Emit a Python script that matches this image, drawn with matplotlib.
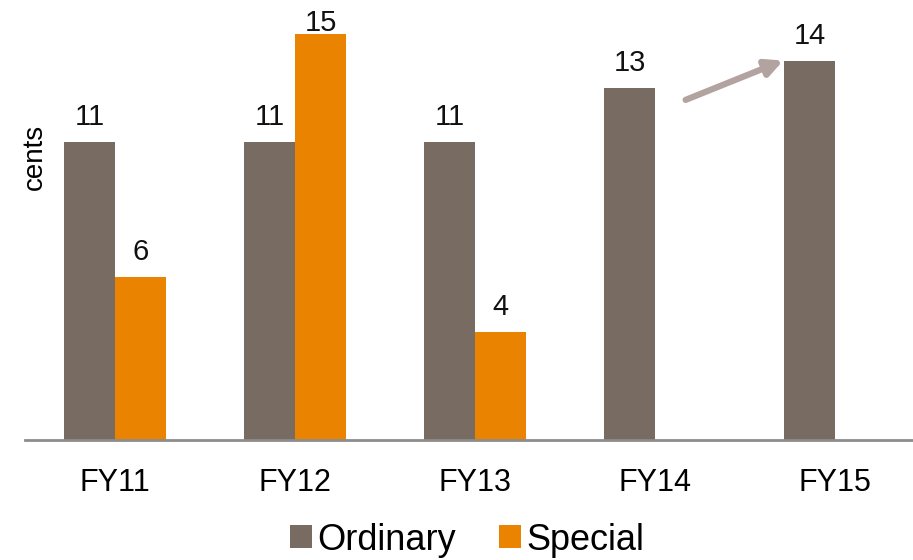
import numpy as np
import matplotlib
matplotlib.use("Agg")
import matplotlib.pyplot as plt

categories = ["FY11", "FY12", "FY13", "FY14", "FY15"]
ordinary = [11, 11, 11, 13, 14]
special = [6, 15, 4, None, None]

gray = "#786b62"
orange = "#e98300"

plt.rcParams["font.family"] = ["Liberation Sans", "DejaVu Sans"]

fig = plt.figure(figsize=(9.13, 5.6), dpi=100)
ax = fig.add_axes([25 / 913, 120 / 560, 900 / 913, 433.6 / 560])

x = np.arange(len(categories))
w = 0.283

ax.bar(x - w / 2, ordinary, w, color=gray, label="Ordinary")
sx = [i for i, v in enumerate(special) if v is not None]
sv = [v for v in special if v is not None]
ax.bar(np.array(sx) + w / 2, sv, w, color=orange, label="Special")

# labels sit above the bar, squeezed near the top of the plot
def put_label(xpos, v):
    ax.text(xpos, min(v + 0.63, 15.1), str(v), ha="center", va="baseline",
            fontsize=21, color="#111111")

for i, v in enumerate(ordinary):
    put_label(i - w / 2, v)
for i, v in zip(sx, sv):
    put_label(i + w / 2, v)

# trend arrow FY14 -> FY15
ax.annotate("", xy=(4 - w - 0.005, ordinary[4]), xytext=(3 + 0.17, ordinary[3] - 0.45),
            arrowprops=dict(arrowstyle="-|>,head_length=1.0,head_width=0.5",
                            color="#b3a3a0", lw=4.5, shrinkA=0, shrinkB=0))

ax.set_xlim(-0.5, 4.5)
ax.set_ylim(0, 16)
ax.set_xticks(x)
ax.set_xticklabels(categories, fontsize=22)
ax.tick_params(axis="x", length=0, pad=20)
ax.set_yticks([])
for s in ["top", "right", "left"]:
    ax.spines[s].set_visible(False)
ax.spines["bottom"].set_color("#8c8c8c")
ax.spines["bottom"].set_linewidth(2)

fig.text(35 / 913, 1 - 157 / 560, "cents", rotation=90, ha="center", va="center", fontsize=20)

fig.legend(loc="center", bbox_to_anchor=(467 / 913, 1 - 540 / 560), ncol=2, frameon=False,
           fontsize=26, handlelength=0.6, handleheight=0.6, handletextpad=0.15, columnspacing=1.2)

fig.savefig("out.png", dpi=100)
